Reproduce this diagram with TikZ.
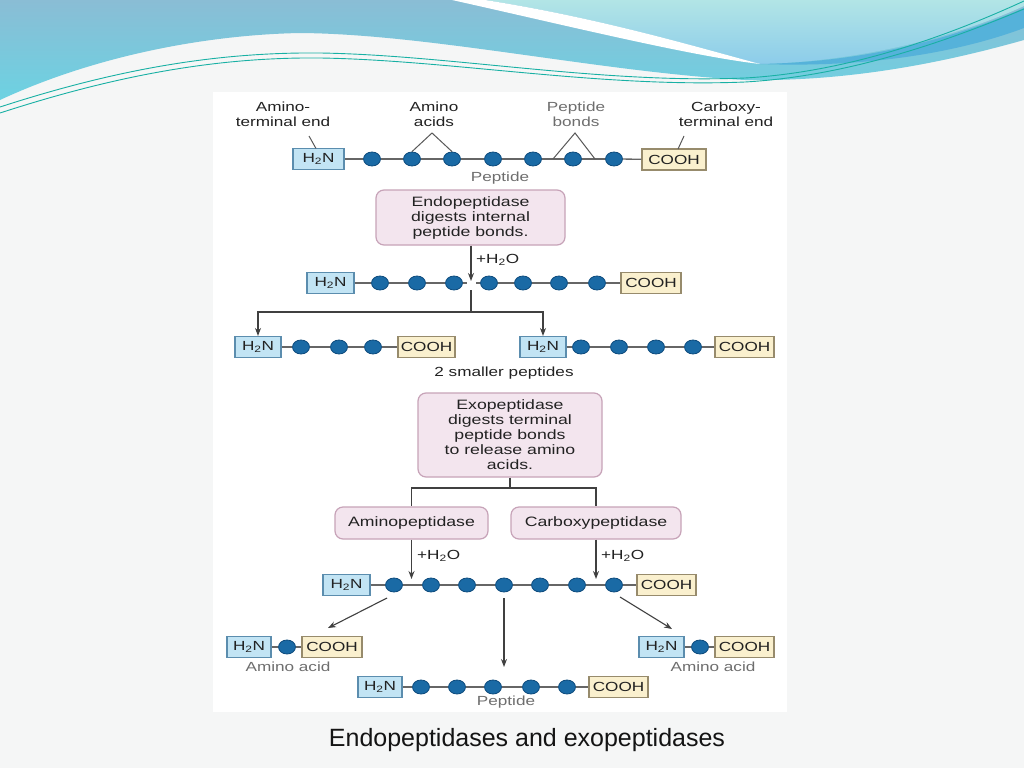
\documentclass[tikz,border=0pt]{standalone}
\usepackage{fontspec}
\setmainfont{Liberation Sans}
\newfontfamily\dfam[FakeStretch=1.3]{Liberation Sans}
\usetikzlibrary{shapes.geometric,arrows.meta}
\definecolor{bgc}{HTML}{F5F6F6}
\definecolor{nhf}{HTML}{C2E4F4}
\definecolor{nhb}{HTML}{5B8DAE}
\definecolor{cof}{HTML}{FAF0CE}
\definecolor{cob}{HTML}{978B6C}
\definecolor{aaf}{HTML}{1A6AA5}
\definecolor{aab}{HTML}{0D4A7C}
\definecolor{enzf}{HTML}{F3E5EE}
\definecolor{enzb}{HTML}{C7A3B8}
\definecolor{lnc}{HTML}{666666}
\definecolor{txt}{HTML}{222222}
\definecolor{txtl}{HTML}{6E6E6E}
\definecolor{bluetop}{HTML}{8ABDD5}
\definecolor{bluebot}{HTML}{6CD2E2}
\definecolor{cyantop}{HTML}{B2E5E6}
\definecolor{cyanbot}{HTML}{8CCCEA}
\definecolor{darkband}{HTML}{55B2DA}
\definecolor{teal}{HTML}{18B0A4}
\newcommand{\dfont}{\dfam\fontsize{13.2}{14.6}\selectfont}
\newcommand{\efont}{\dfam\fontsize{13.6}{15}\selectfont}
\tikzset{
  nh/.style={draw=nhb, fill=nhf, line width=1.1pt, minimum width=#1, minimum height=21pt, inner sep=0pt, font=\dfont, text=txt},
  nh/.default=47pt,
  co/.style={draw=cob, fill=cof, line width=1.1pt, minimum width=#1, minimum height=21pt, inner sep=0pt, font=\dfont, text=txt},
  co/.default=60pt,
  aa/.style={ellipse, draw=aab, fill=aaf, line width=0.8pt, minimum width=17pt, minimum height=14pt, inner sep=0pt},
  bond/.style={draw=lnc, line width=1.3pt},
  conn/.style={draw=black!75, line width=1.1pt},
  arr/.style={draw=black!75, line width=1.1pt, -{Stealth[length=8pt,width=6pt]}},
  enz/.style={draw=enzb, fill=enzf, rounded corners=8pt, line width=1.2pt, align=center, font=\efont, text=txt, inner sep=0pt},
  lab/.style={font=\dfont, text=txt, align=center, inner sep=0pt},
  labl/.style={font=\dfont, text=txtl, align=center, inner sep=0pt},
  ptr/.style={draw=black!65, line width=1pt}
}
\begin{document}
\begin{tikzpicture}[x=1pt,y=-1pt]
\useasboundingbox (0,0) rectangle (1024,768);
% slide background
\fill[bgc] (0,0) rectangle (1024,768);
% header waves
\shade[top color=bluetop, bottom color=bluebot]
  (0,0) -- (1024,0) -- (1024,40)
  .. controls (960,58) and (860,82) .. (745,80)
  .. controls (600,72) and (430,34) .. (300,33)
  .. controls (200,35) and (90,58) .. (0,100) -- cycle;
\shade[top color=cyantop, bottom color=cyanbot]
  (485,0) .. controls (600,18) and (700,48) .. (760,64)
  .. controls (850,62) and (950,40) .. (1024,6) -- (1024,0) -- cycle;
\fill[white]
  (452,0) .. controls (560,24) and (690,56) .. (760,64)
  .. controls (700,48) and (600,18) .. (485,0) -- cycle;
\fill[darkband]
  (760,64) .. controls (870,62) and (960,36) .. (1024,8) -- (1024,28)
  .. controls (960,52) and (870,68) .. (760,64) -- cycle;
\draw[teal, line width=0.9pt]
  (0,107) .. controls (120,68) and (220,52) .. (320,53)
  .. controls (450,55) and (600,84) .. (745,78)
  .. controls (850,72) and (950,35) .. (1024,1);
\draw[teal, line width=0.9pt]
  (0,113) .. controls (120,74) and (220,57) .. (320,58)
  .. controls (450,60) and (600,88) .. (745,82)
  .. controls (850,76) and (950,40) .. (1024,9);
% diagram panel
\fill[white] (213,92) rectangle (787,712);

% ---------- row 1 ----------
\node[lab] (lamt) at (283,114.5) {Amino-\\terminal end};
\node[lab] (laa) at (434,114.5) {Amino\\acids};
\node[labl] (lpb) at (576,114.5) {Peptide\\bonds};
\node[lab] (lct) at (726,114.5) {Carboxy-\\terminal end};
\node[nh=51pt] (h1) at (318.5,159) {H\textsubscript{2}N};
\foreach \x [count=\i] in {372,412,452,493,533,573,614}
  \node[aa] (r1a\i) at (\x,159) {};
\node[co=64pt] (c1) at (674,159.5) {COOH};
\draw[bond] (h1) -- (r1a1);
\foreach \i [evaluate=\i as \j using int(\i+1)] in {1,...,6}
  \draw[bond] (r1a\i) -- (r1a\j);
\draw[bond] (r1a7) -- (c1);
\node[labl] (lpep1) at (500,178) {Peptide};
\coordinate (pamt) at (309,136);
\coordinate (pamtE) at (316,148.5);
\draw[ptr] (pamt) -- (pamtE);
\coordinate (paa) at (432,133);
\draw[ptr] (r1a2.north) -- (paa) -- (r1a3.north);
\coordinate (ppb) at (575,133);
\coordinate (ppb1) at (553,159);
\coordinate (ppb2) at (595,159);
\draw[ptr] (ppb1) -- (ppb) -- (ppb2);
\coordinate (pct) at (684,136);
\coordinate (pctE) at (678,149);
\draw[ptr] (pct) -- (pctE);

% ---------- endopeptidase ----------
\node[enz, minimum width=189pt, minimum height=55pt] (endo) at (470.5,217.5)
  {Endopeptidase\\digests internal\\peptide bonds.};
\coordinate (cut) at (471,281);
\draw[arr] (endo.south -| cut) -- (cut);
\node[lab, anchor=west] (w1) at (476,260) {+H\textsubscript{2}O};

% ---------- row 2 ----------
\node[nh] (h2) at (330.5,283) {H\textsubscript{2}N};
\foreach \x [count=\i] in {380,417,454,489,523,559,597}
  \node[aa] (r2a\i) at (\x,283) {};
\node[co] (c2) at (651,283) {COOH};
\coordinate (cutL) at (467,283);
\coordinate (cutR) at (476,283);
\draw[bond] (h2) -- (r2a1) -- (r2a2) -- (r2a3) -- (cutL);
\draw[bond] (cutR) -- (r2a4) -- (r2a5) -- (r2a6) -- (r2a7) -- (c2);
\coordinate (cutB) at (471,290);
\coordinate (sp) at (471,312);
\draw[conn] (cutB) -- (sp);

% ---------- row 3 ----------
\node[nh=46pt] (h3a) at (258,347) {H\textsubscript{2}N};
\foreach \x [count=\i] in {301,339,373}
  \node[aa] (r3a\i) at (\x,347) {};
\node[co=57pt] (c3a) at (426.5,347) {COOH};
\draw[bond] (h3a) -- (r3a1) -- (r3a2) -- (r3a3) -- (c3a);
\node[nh=46pt] (h3b) at (543,347) {H\textsubscript{2}N};
\foreach \x [count=\i] in {581,619,656,693}
  \node[aa] (r3b\i) at (\x,347) {};
\node[co=59pt] (c3b) at (744.5,347) {COOH};
\draw[bond] (h3b) -- (r3b1) -- (r3b2) -- (r3b3) -- (r3b4) -- (c3b);
\draw[arr] (sp) -| (h3a.north);
\draw[arr] (sp) -| (h3b.north);
\node[lab] (lsm) at (504,373) {2 smaller peptides};

% ---------- exopeptidase ----------
\node[enz, minimum width=184pt, minimum height=84pt] (exo) at (510,435)
  {Exopeptidase\\digests terminal\\peptide bonds\\to release amino\\acids.};
\node[enz, minimum width=153pt, minimum height=32pt] (ami) at (411.5,523) {Aminopeptidase};
\node[enz, minimum width=170pt, minimum height=32pt] (car) at (596,523) {Carboxypeptidase};
\coordinate (sp2) at (510,488);
\draw[conn] (exo.south) -- (sp2);
\draw[conn] (sp2) -| (ami.north);
\draw[conn] (sp2) -| (car.north);
\coordinate (ta) at (411.5,579);
\coordinate (tc) at (596,579);
\draw[arr] (ami.south) -- (ta);
\draw[arr] (car.south) -- (tc);
\node[lab, anchor=west] (w2) at (417,556) {+H\textsubscript{2}O};
\node[lab, anchor=west] (w3) at (601,556) {+H\textsubscript{2}O};

% ---------- row 4 ----------
\node[nh] (h4) at (346.5,585) {H\textsubscript{2}N};
\foreach \x [count=\i] in {394,431,467,504,540,577,614}
  \node[aa] (r4a\i) at (\x,585) {};
\node[co=59pt] (c4) at (666.5,585) {COOH};
\draw[bond] (h4) -- (r4a1);
\foreach \i [evaluate=\i as \j using int(\i+1)] in {1,...,6}
  \draw[bond] (r4a\i) -- (r4a\j);
\draw[bond] (r4a7) -- (c4);
\coordinate (d1s) at (387,598);
\coordinate (d1e) at (328,628);
\coordinate (d2s) at (504,598);
\coordinate (d2e) at (504,667);
\coordinate (d3s) at (620,597);
\coordinate (d3e) at (672,629);
\draw[arr] (d1s) -- (d1e);
\draw[arr] (d2s) -- (d2e);
\draw[arr] (d3s) -- (d3e);

% ---------- row 5 (amino acids) ----------
\node[nh=44pt] (h5a) at (249,647) {H\textsubscript{2}N};
\node[aa] (r5a1) at (287,647) {};
\node[co=60pt] (c5a) at (332,647) {COOH};
\draw[bond] (h5a) -- (r5a1) -- (c5a);
\node[labl] (laa1) at (288,667) {Amino acid};
\node[nh=45pt] (h5b) at (661.5,647) {H\textsubscript{2}N};
\node[aa] (r5b1) at (700,647) {};
\node[co=59pt] (c5b) at (744.5,647) {COOH};
\draw[bond] (h5b) -- (r5b1) -- (c5b);
\node[labl] (laa2) at (713,667) {Amino acid};

% ---------- row 6 (peptide) ----------
\node[nh=44pt] (h6) at (380,687) {H\textsubscript{2}N};
\foreach \x [count=\i] in {421,457,493,531,567}
  \node[aa] (r6a\i) at (\x,687) {};
\node[co=59pt] (c6) at (618.5,687) {COOH};
\draw[bond] (h6) -- (r6a1) -- (r6a2) -- (r6a3) -- (r6a4) -- (r6a5) -- (c6);
\node[labl] (lpep2) at (506,702) {Peptide};

% caption
\node[font=\fontsize{25}{30}\selectfont, text=black!92] (cap) at (527,740) {Endopeptidases and exopeptidases};
\end{tikzpicture}
\end{document}
